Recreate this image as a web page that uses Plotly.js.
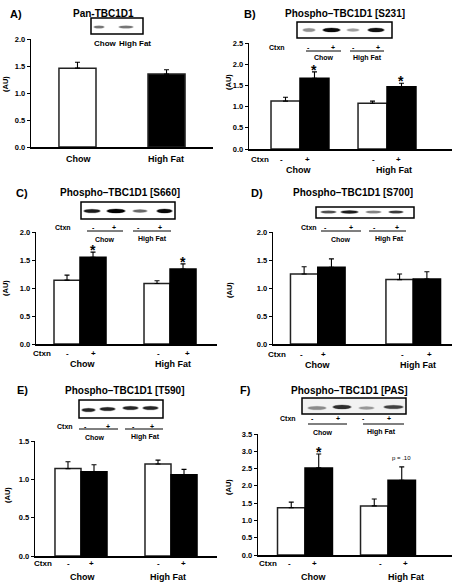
<!DOCTYPE html>
<html><head><meta charset="utf-8">
<script src="https://cdn.plot.ly/plotly-3.0.1.min.js"></script>
<style>html,body{margin:0;padding:0;background:#fff}#chart{width:453px;height:584px}</style>
</head><body><div id="chart"></div>
<script>
// ---------------- data ----------------
const groups = ["Chow", "High Fat"];

const panA_mean = [1.46, 1.35];
const panA_sem  = [0.11, 0.08];

const panB_minus = [1.13, 1.08];
const panB_minus_sem = [0.09, 0.05];
const panB_plus = [1.67, 1.47];
const panB_plus_sem = [0.15, 0.08];
const panB_sig = ["*", "*"];

const panC_minus = [1.14, 1.08];
const panC_minus_sem = [0.09, 0.05];
const panC_plus = [1.55, 1.34];
const panC_plus_sem = [0.09, 0.09];
const panC_sig = ["*", "*"];

const panD_minus = [1.25, 1.15];
const panD_minus_sem = [0.13, 0.10];
const panD_plus = [1.37, 1.16];
const panD_plus_sem = [0.15, 0.13];
const panD_sig = ["", ""];

const panE_minus = [1.14, 1.20];
const panE_minus_sem = [0.09, 0.05];
const panE_plus = [1.10, 1.06];
const panE_plus_sem = [0.09, 0.07];
const panE_sig = ["", ""];

const panF_minus = [1.37, 1.42];
const panF_minus_sem = [0.16, 0.20];
const panF_plus = [2.52, 2.16];
const panF_plus_sem = [0.40, 0.39];
const panF_sig = ["*", "p = .10"];

const panelLetters = ["A)", "B)", "C)", "D)", "E)", "F)"];
const panelTitles = ["Pan-TBC1D1", "Phospho–TBC1D1 [S231]", "Phospho–TBC1D1 [S660]",
                     "Phospho–TBC1D1 [S700]", "Phospho–TBC1D1 [T590]", "Phospho–TBC1D1 [PAS]"];
const yLabel = "(AU)";
const ctxnLabel = "Ctxn";
const ctxnLevels = ["-", "+"];

// ---------------- layout helpers ----------------
const W = 453, H = 584;
const X = p => p / W;
const Y = p => 1 - p / H;
const FONT = "Liberation Sans, Arial, sans-serif";

const ann = [];
const shapes = [];
function txt(x, y, s, size, extra) {
  ann.push(Object.assign({xref: 'paper', yref: 'paper', x: X(x), y: Y(y), text: '<b>' + s + '</b>',
    showarrow: false, xanchor: 'center', yanchor: 'middle',
    font: {family: FONT, size: size, color: '#000'}}, extra || {}));
}
function hline(x0, x1, y, w) {
  shapes.push({type: 'line', xref: 'paper', yref: 'paper', x0: X(x0), x1: X(x1), y0: Y(y), y1: Y(y),
    line: {color: '#000', width: w || 1}});
}
function blot(box, bands, bg) {
  shapes.push({type: 'rect', xref: 'paper', yref: 'paper', x0: X(box[0]), y0: Y(box[1]), x1: X(box[2]), y1: Y(box[3]),
    line: {color: '#000', width: 1.5}, fillcolor: bg || '#fff'});
  bands.forEach(b => {
    // b = [x0, x1, yCenter, height, darkness]
    shapes.push({type: 'circle', xref: 'paper', yref: 'paper', x0: X(b[0] - 1), x1: X(b[1] + 1),
      y0: Y(b[2] - b[3] / 2 - 0.6), y1: Y(b[2] + b[3] / 2 + 0.6), line: {width: 0},
      fillcolor: 'rgba(0,0,0,' + (b[4] * 0.35) + ')'});
    shapes.push({type: 'circle', xref: 'paper', yref: 'paper', x0: X(b[0]), x1: X(b[1]),
      y0: Y(b[2] - b[3] / 2), y1: Y(b[2] + b[3] / 2), line: {width: 0},
      fillcolor: 'rgba(0,0,0,' + b[4] + ')'});
  });
}

// panel axis geometry (pixels): x domain, y domain (bottom, top), x range, y max, half-group bar width
const geo = [
  {xd: [31, 213],  yd: [147, 39],  xr: [-0.522, 1.522], ymax: 2.0, w: 0.416},
  {xd: [249, 452], yd: [149, 43],  xr: [-0.586, 1.747], ymax: 2.5, w: 0.333},
  {xd: [36, 217],  yd: [344, 232], xr: [-0.489, 1.522], ymax: 2.0, w: 0.289},
  {xd: [273, 452], yd: [344, 232], xr: [-0.469, 1.406], ymax: 2.0, w: 0.286},
  {xd: [35, 217],  yd: [556, 441], xr: [-0.511, 1.511], ymax: 1.5, w: 0.289},
  {xd: [258, 452], yd: [555, 434], xr: [-0.566, 1.771], ymax: 3.5, w: 0.331}
];

const layout = {
  width: W, height: H, margin: {l: 0, r: 0, t: 0, b: 0},
  paper_bgcolor: '#fff', plot_bgcolor: 'rgba(0,0,0,0)',
  showlegend: false, hovermode: false,
  font: {family: FONT, color: '#000'}
};

geo.forEach((g, i) => {
  const sx = i === 0 ? '' : String(i + 1);
  layout['xaxis' + sx] = {
    domain: [X(g.xd[0]), X(g.xd[1])], range: g.xr, type: 'category', categoryarray: groups,
    anchor: 'y' + sx, showline: true, linecolor: '#000', linewidth: 1.5, showticklabels: false,
    ticks: '', showgrid: false, zeroline: false, fixedrange: true
  };
  layout['yaxis' + sx] = {
    domain: [Y(g.yd[0]), Y(g.yd[1])], range: [0, g.ymax], anchor: 'x' + sx,
    showline: true, linecolor: '#000', linewidth: 1.2, ticks: 'outside', ticklen: 3, tickwidth: 1,
    tickcolor: '#000', dtick: 0.5, tick0: 0, tickformat: '.1f', showgrid: false, zeroline: false,
    tickfont: {family: FONT, size: 7.5, color: '#000', weight: 'bold'}, fixedrange: true
  };
});

const traces = [];
const errStyle = {color: '#000', thickness: 1.1, width: 2.5};

// panel A
traces.push({type: 'bar', x: groups, y: panA_mean, width: geo[0].w, xaxis: 'x', yaxis: 'y',
  marker: {color: ['#fff', '#000'], line: {color: '#222', width: 1.5}},
  error_y: Object.assign({type: 'data', symmetric: false, array: panA_sem, arrayminus: [0, 0]}, errStyle)});

const grouped = [
  [panB_minus, panB_minus_sem, panB_plus, panB_plus_sem, panB_sig],
  [panC_minus, panC_minus_sem, panC_plus, panC_plus_sem, panC_sig],
  [panD_minus, panD_minus_sem, panD_plus, panD_plus_sem, panD_sig],
  [panE_minus, panE_minus_sem, panE_plus, panE_plus_sem, panE_sig],
  [panF_minus, panF_minus_sem, panF_plus, panF_plus_sem, panF_sig]
];
grouped.forEach((d, k) => {
  const i = k + 1, g = geo[i], sx = String(i + 1);
  traces.push({type: 'bar', x: groups, y: d[0], width: g.w, offset: -g.w, xaxis: 'x' + sx, yaxis: 'y' + sx,
    marker: {color: '#fff', line: {color: '#222', width: 1.5}},
    error_y: Object.assign({type: 'data', symmetric: false, array: d[1], arrayminus: [0, 0]}, errStyle)});
  traces.push({type: 'bar', x: groups, y: d[2], width: g.w, offset: 0, xaxis: 'x' + sx, yaxis: 'y' + sx,
    marker: {color: '#000', line: {color: '#000', width: 1.5}},
    error_y: Object.assign({type: 'data', symmetric: false, array: d[3], arrayminus: [0, 0]}, errStyle)});
  d[4].forEach((s, j) => {
    if (!s) return;
    const star = s === '*';
    ann.push({xref: 'x' + sx, yref: 'y' + sx, x: j + g.w / 2, y: d[2][j] + d[3][j],
      text: star ? '<b>*</b>' : s, showarrow: false, xanchor: 'center', yanchor: 'bottom',
      yshift: star ? -8 : 4, font: {family: FONT, size: star ? 14 : 6, color: '#000'}});
  });
});

// ---------------- decorations: letters, titles, blots, labels ----------------
const letterPos = [[16, 14], [250, 14], [22, 193], [257, 193], [22, 390], [245, 390]];
const titlePos  = [[103, 14], [345, 14], [120, 193], [353, 193], [124, 390], [349, 390]];
letterPos.forEach((p, i) => txt(p[0], p[1], panelLetters[i], 11));
titlePos.forEach((p, i) => txt(p[0], p[1], panelTitles[i], 10));

const auPos = [[5, 84], [228, 82], [5, 288], [229, 290], [7, 495], [229, 487]];
auPos.forEach(p => txt(p[0], p[1], yLabel, 7.5, {textangle: -90}));

// blots
blot([91, 18, 143, 34], [[94, 104, 27, 2.5, 0.45], [119, 133, 27, 2.5, 0.45]]);
blot([297, 22, 392, 38], [[303, 315, 30, 3.5, 0.35], [323, 340, 30, 4, 0.95], [347, 359, 30, 3, 0.3], [368, 384, 30, 4, 0.9]]);
blot([81, 202, 175, 219], [[84, 100, 211, 3.5, 0.85], [107, 125, 211, 4, 1.0], [133, 147, 211, 3, 0.5], [157, 172, 211, 4, 0.95]]);
blot([316, 207, 414, 218], [[321, 336, 212, 2.5, 0.6], [341, 358, 212, 3, 0.85], [366, 381, 212, 2.5, 0.4], [389, 403, 212, 2.5, 0.7]]);
blot([79, 400, 163, 418], [[82, 95, 410, 3.5, 0.8], [100, 115, 409, 3.5, 0.8], [123, 138, 408, 3.5, 0.8], [143, 158, 408, 3.5, 0.8]]);
blot([302, 398, 406, 414], [[308, 326, 408, 3.5, 0.35], [333, 351, 407, 4, 0.75], [359, 374, 408, 3, 0.3], [384, 403, 407, 3.5, 0.65]], '#f2f2f2');

// panel A blot labels and axis labels
txt(105, 43, groups[0], 8);
txt(135, 43, groups[1], 8);
txt(78, 159, groups[0], 9);
txt(166, 159, groups[1], 9);

// Ctxn rows under blots: [ctxnX, m1, p1, m2, p2, rowY, lineY, line1, line2, labelY, chowX, hfX]
const blotRows = [
  [277, 308, 333, 353, 378, 47, 51, [306, 341], [350, 384], 58, 324, 367],
  [63, 93, 114, 138, 160, 227, 231, [87, 123], [133, 171], 239, 105, 152],
  [309, 325, 351, 374, 397, 227, 231, [321, 361], [369, 406], 239, 341, 389],
  [65, 85, 108, 133, 152, 426, 429, [79, 118], [125, 163], 437, 95, 145],
  [288, 312, 338, 363, 389, 418, 424, [308, 347], [363, 404], 432, 323, 381]
];
blotRows.forEach(r => {
  txt(r[0], r[5], ctxnLabel, 7);
  txt(r[1], r[5], ctxnLevels[0], 7);
  txt(r[2], r[5], ctxnLevels[1], 7);
  txt(r[3], r[5], ctxnLevels[0], 7);
  txt(r[4], r[5], ctxnLevels[1], 7);
  hline(r[7][0], r[7][1], r[6], 1);
  hline(r[8][0], r[8][1], r[6], 1);
  txt(r[10], r[9], groups[0], 7);
  txt(r[11], r[9], groups[1], 7);
});

// Ctxn rows under axes: [ctxnX, m1, p1, m2, p2, rowY, labelY, chowX, hfX]
const axisRows = [
  [260, 281, 307, 373, 398, 159, 170, 298, 394],
  [42, 67, 93, 158, 187, 353, 364, 82, 173],
  [277, 301, 323, 402, 429, 354, 365, 317, 418],
  [43, 68, 91, 158, 183, 563, 577, 82, 168],
  [268, 289, 314, 380, 405, 563, 577, 313, 406]
];
axisRows.forEach(r => {
  txt(r[0], r[5], ctxnLabel, 8);
  txt(r[1], r[5], ctxnLevels[0], 8);
  txt(r[2], r[5], ctxnLevels[1], 8);
  txt(r[3], r[5], ctxnLevels[0], 8);
  txt(r[4], r[5], ctxnLevels[1], 8);
  txt(r[7], r[6], groups[0], 9);
  txt(r[8], r[6], groups[1], 9);
});

layout.annotations = ann;
layout.shapes = shapes;

Plotly.newPlot('chart', traces, layout, {staticPlot: true, displayModeBar: false});
</script>
</body></html>
